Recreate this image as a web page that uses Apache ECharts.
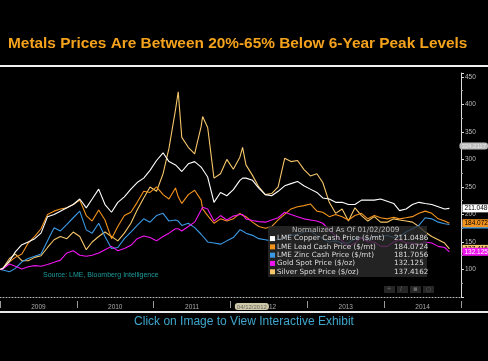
<!DOCTYPE html>
<html><head><meta charset="utf-8">
<script src="https://cdn.jsdelivr.net/npm/echarts/dist/echarts.min.js"></script>
<style>html,body{margin:0;padding:0;background:#000;}#c{width:488px;height:361px;}</style>
</head><body><div id="c"></div>
<script>
const dates = ['2009-01-02',
 '2009-01-15','2009-02-15','2009-03-15','2009-04-15','2009-05-15','2009-06-15','2009-07-15','2009-08-15','2009-09-15','2009-10-15','2009-11-15','2009-12-15',
 '2010-01-15','2010-02-15','2010-03-15','2010-04-15','2010-05-15','2010-06-15','2010-07-15','2010-08-15','2010-09-15','2010-10-15','2010-11-15','2010-12-15',
 '2011-01-15','2011-02-15','2011-03-15','2011-04-15','2011-04-28','2011-05-15','2011-06-15','2011-07-15','2011-08-15','2011-08-22','2011-09-15','2011-10-15','2011-11-15','2011-12-15',
 '2012-01-15','2012-02-15','2012-02-28','2012-03-15','2012-04-15','2012-05-15','2012-06-15','2012-07-15','2012-08-15','2012-09-15','2012-10-15','2012-11-15','2012-12-15',
 '2013-01-15','2013-02-15','2013-03-15','2013-04-15','2013-05-15','2013-06-15','2013-07-15','2013-08-15','2013-09-15','2013-10-15','2013-11-15','2013-12-15',
 '2014-01-15','2014-02-15','2014-03-15','2014-04-15','2014-05-15','2014-06-15','2014-07-15','2014-08-15','2014-09-15','2014-10-15','2014-11-07'];

const copper = [100,
 102,115,132,145,150,156,166,196,200,206,212,218,
 228,212,228,246,218,204,222,232,246,258,266,280,
 298,312,296,290,285,278,292,296,286,282,268,222,240,234,
 245,262,266,266,262,248,236,234,242,252,256,260,252,
 246,240,230,228,222,222,218,218,226,226,226,228,
 224,220,207,210,218,222,220,218,214,210,211.0486];

const lead = [100,
 102,114,122,128,148,160,174,200,206,210,212,218,
 226,198,188,208,190,156,178,198,204,222,242,240,
 250,236,228,248,232,220,236,244,226,210,198,184,192,188,
 192,202,198,196,186,178,175,178,190,200,210,214,216,
 219,206,204,196,200,196,190,198,202,192,198,194,
 192,195,192,194,196,202,206,202,192,188,184.0724];

const zinc = [100,
 99,96,102,114,120,124,128,152,176,170,182,194,
 206,172,166,184,160,138,140,156,168,180,192,186,
 198,202,188,190,188,180,184,176,164,161,150,148,146,152,
 158,172,170,166,162,156,154,152,155,158,162,164,168,
 170,162,156,150,152,148,148,156,158,154,160,160,
 162,158,160,168,174,180,194,192,186,183,181.7056];

const gold = [100,
 101,110,106,101,105,107,106,109,113,117,130,134,
 126,124,126,130,136,142,134,138,144,156,161,158,
 152,160,166,174,174,170,178,186,208,213,210,188,198,190,
 197,200,200,192,189,187,186,190,194,204,200,196,192,
 190,188,184,172,160,152,142,148,158,150,150,142,
 142,150,154,148,148,144,150,148,142,140,132.125];

const silver = [100,
 102,120,128,116,116,122,125,140,154,160,156,168,
 160,136,150,160,168,160,152,166,184,208,230,250,
 242,274,320,390,423,340,322,310,360,378,358,266,274,300,
 282,304,322,290,271,250,236,238,250,302,296,298,282,
 270,274,258,222,202,210,188,212,198,188,196,186,
 186,192,190,188,186,178,168,160,154,148,137.4162];

const years = ['2009','2010','2011','2012','2013','2014'];
const yTicks = {min: 50, max: 457, interval: 50};

const seriesDefs = [
  {name:'LME Copper Cash Price ($/mt)', data: copper, color:'#ffffff', txt:'#000', z:6},
  {name:'LME Lead Cash Price ($/mt)', data: lead, color:'#f4931c', txt:'#000', z:5},
  {name:'LME Zinc Cash Price ($/mt)', data: zinc, color:'#3a9ae6', txt:'#000', z:4},
  {name:'Gold Spot Price ($/oz)', data: gold, color:'#f014f0', txt:'#fff', z:5},
  {name:'Silver Spot Price ($/oz)', data: silver, color:'#f6c66a', txt:'#000', z:3}
];
const lastVal = {};
seriesDefs.forEach(s => lastVal[s.name] = s.data[s.data.length-1]);

const chart = echarts.init(document.getElementById('c'));
const FONT = 'Liberation Sans, Arial, sans-serif';
const LFONT = 'DejaVu Sans';

chart.setOption({
  backgroundColor: '#000',
  animation: false,
  title: {
    text: 'Metals Prices Are Between 20%-65% Below 6-Year Peak Levels',
    left: 3, top: 31,
    textStyle: {color:'#f4a21c', fontSize: 15.4, fontWeight:'bold', fontFamily: FONT}
  },
  grid: {left: 0, top: 73, width: 461, height: 224, containLabel: false},
  xAxis: [
    {type:'time', min: '2009-01-01', max: '2015-01-01',
     axisLine:{show:true, lineStyle:{color:'#bbb', type:[1,2], width:1}},
     axisTick:{show:false}, axisLabel:{show:false}, splitLine:{show:false},
     axisPointer:{show:true, status:'show', value: +new Date('2012-04-12'), type:'line',
       lineStyle:{opacity:0},
       label:{show:true, formatter:'04/12/2012', backgroundColor:'#cfc8a8', color:'#666',
         fontSize:6, padding:[1,2,0,2], margin:6, fontFamily: FONT}}},
    {type:'category', data: years, position:'bottom', offset: 4, boundaryGap: true,
     axisLine:{show:false},
     axisTick:{show:true, length:7, lineStyle:{color:'#999'}},
     axisLabel:{color:'#aaa', fontSize:6.5, margin:3, fontFamily: FONT},
     splitLine:{show:false}}
  ],
  yAxis: {
    type:'value', position:'right', min: yTicks.min, max: yTicks.max, interval: yTicks.interval,
    axisLine:{show:true, lineStyle:{color:'#ddd', width:1}},
    axisTick:{show:true, length:3, lineStyle:{color:'#ddd'}},
    minorTick:{show:true, splitNumber:2, length:2, lineStyle:{color:'#aaa'}},
    axisLabel:{color:'#bbb', fontSize:6.5, margin:4, showMinLabel:false, fontFamily: FONT},
    splitLine:{show:false},
    axisPointer:{show:true, status:'show', value: 324.3, type:'line', lineStyle:{opacity:0},
      label:{show:true, formatter:'324.2117', backgroundColor:'#bdbdbd', color:'#e8e8e8',
        fontSize:6, padding:[1,2,0,2], margin:1, fontFamily: FONT}}
  },
  legend: {
    z: 20,
    orient:'vertical', left: 270, top: 234.5, itemWidth:5, itemHeight:5, itemGap:0.2,
    icon:'rect', selectedMode:false, padding:0,
    data: seriesDefs.map(s=>s.name),
    formatter: n => '{n|' + n + '}{v|' + lastVal[n] + '}',
    textStyle:{color:'#ddd', fontSize:7.2, fontFamily:LFONT, padding:[0,0,0,-3], lineHeight:8.1,
      rich:{n:{width:117, fontSize:7.2, fontFamily:LFONT, color:'#ddd', lineHeight:8.1},
            v:{fontSize:7.2, fontFamily:LFONT, color:'#ddd', lineHeight:8.1}}}
  },
  series: seriesDefs.map(s => ({
    name: s.name, type:'line', xAxisIndex:0, z: s.z,
    data: s.data.map((v,i)=>[dates[i], v]),
    showSymbol:false, symbol:'none',
    lineStyle:{color:s.color, width:1.1},
    itemStyle:{color:s.color},
    endLabel:{show:true, formatter: p => String(p.value[1]), distance: 13,
      color: s.txt, backgroundColor: s.color, fontSize:6.5, padding:[1,2,0,2], fontFamily: FONT}
  })),
  graphic: [
    {type:'rect', shape:{x:0, y:65, width:488, height:2}, style:{fill:'#f0f0f0'}, silent:true},
    {type:'rect', shape:{x:0, y:311, width:488, height:2}, style:{fill:'#e8e8e8'}, silent:true},
    {type:'rect', z:10, shape:{x:268, y:226, width:159, height:51}, style:{fill:'rgba(45,45,45,0.78)'}, silent:true},
    {type:'text', z:11, left:292, top:226.5, style:{text:'Normalized As Of 01/02/2009', fill:'#bbb', fontSize:7.3, fontFamily:LFONT}},
    {type:'text', left:43, top:272, style:{text:'Source: LME, Bloomberg Intelligence', fill:'#1e9c9c', fontSize:7, fontFamily: FONT}},
    {type:'text', left:'center', top:316, style:{text:'Click on Image to View Interactive Exhibit', fill:'#3ea6cc', fontSize:12, fontFamily: FONT}},
    {type:'rect', shape:{x:384, y:286, width:11, height:7}, style:{fill:'#262626'}},
    {type:'rect', shape:{x:397, y:286, width:11, height:7}, style:{fill:'#262626'}},
    {type:'rect', shape:{x:410, y:286, width:11, height:7}, style:{fill:'#262626'}},
    {type:'rect', shape:{x:423, y:286, width:11, height:7}, style:{fill:'#262626'}},
    {type:'text', left:387, top:286, style:{text:'+', fill:'#666', fontSize:7, fontFamily: FONT}},
    {type:'text', left:400, top:286, style:{text:'/', fill:'#666', fontSize:7, fontFamily: FONT}},
    {type:'text', left:413, top:286, style:{text:'▪', fill:'#666', fontSize:7, fontFamily:'DejaVu Sans'}},
    {type:'text', left:426, top:286, style:{text:'○', fill:'#666', fontSize:6, fontFamily:'DejaVu Sans'}}
  ]
});
</script>
</body></html>
